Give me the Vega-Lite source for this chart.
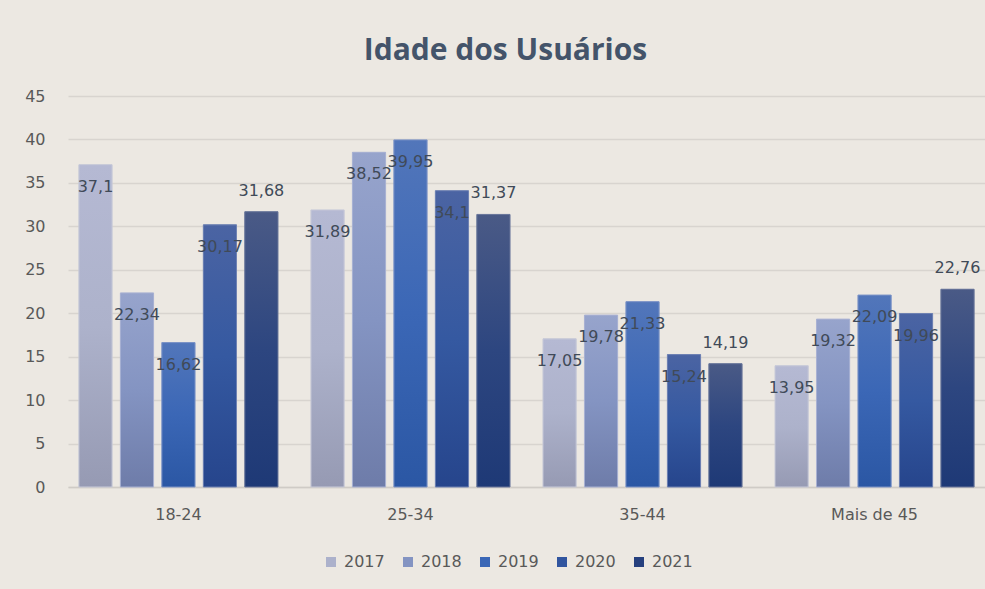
{
  "$schema": "https://vega.github.io/schema/vega-lite/v6.json",
  "autosize": "none",
  "width": 917,
  "height": 391,
  "padding": {"left": 68, "top": 96, "right": 0, "bottom": 102},
  "background": "#ECE8E2",
  "title": {"text": "Idade dos Usuários", "fontSize": 30, "fontWeight": "bold", "font": "Open Sans", "color": "#44546A", "anchor": "middle", "offset": 22, "dx": -21},
  "data": {"values": [
    {"faixa": "18-24", "ano": "2017", "valor": 37.1},
    {"faixa": "18-24", "ano": "2018", "valor": 22.34},
    {"faixa": "18-24", "ano": "2019", "valor": 16.62},
    {"faixa": "18-24", "ano": "2020", "valor": 30.17},
    {"faixa": "18-24", "ano": "2021", "valor": 31.68},
    {"faixa": "25-34", "ano": "2017", "valor": 31.89},
    {"faixa": "25-34", "ano": "2018", "valor": 38.52},
    {"faixa": "25-34", "ano": "2019", "valor": 39.95},
    {"faixa": "25-34", "ano": "2020", "valor": 34.1},
    {"faixa": "25-34", "ano": "2021", "valor": 31.37},
    {"faixa": "35-44", "ano": "2017", "valor": 17.05},
    {"faixa": "35-44", "ano": "2018", "valor": 19.78},
    {"faixa": "35-44", "ano": "2019", "valor": 21.33},
    {"faixa": "35-44", "ano": "2020", "valor": 15.24},
    {"faixa": "35-44", "ano": "2021", "valor": 14.19},
    {"faixa": "Mais de 45", "ano": "2017", "valor": 13.95},
    {"faixa": "Mais de 45", "ano": "2018", "valor": 19.32},
    {"faixa": "Mais de 45", "ano": "2019", "valor": 22.09},
    {"faixa": "Mais de 45", "ano": "2020", "valor": 19.96},
    {"faixa": "Mais de 45", "ano": "2021", "valor": 22.76}
  ]},
  "encoding": {
    "x": {"field": "faixa", "type": "nominal", "title": null, "sort": null,
      "scale": {"paddingInner": 0.142, "paddingOuter": 0.047},
      "axis": {"labelAngle": 0, "labelFont": "DejaVu Sans", "labelFontSize": 16, "labelColor": "#595959", "labelPadding": 19, "ticks": false, "domainColor": "#CFCBC6", "domainWidth": 1.5, "grid": false}},
    "xOffset": {"field": "ano", "type": "nominal", "scale": {"domain": ["2017", "2018", "2019", "2020", "2021"], "paddingInner": 0.2, "paddingOuter": 0}},
    "y": {"field": "valor", "type": "quantitative", "title": null,
      "scale": {"domain": [0, 45], "nice": false},
      "axis": {"values": [0, 5, 10, 15, 20, 25, 30, 35, 40, 45], "labelFont": "DejaVu Sans", "labelFontSize": 16, "labelColor": "#595959", "labelPadding": 23, "ticks": false, "domain": false, "gridColor": "#D8D4CF", "gridWidth": 1.5}}
  },
  "layer": [
    {
      "mark": {"type": "bar"},
      "encoding": {
        "color": {"field": "ano", "type": "nominal", "title": null,
          "scale": {"domain": ["2017", "2018", "2019", "2020", "2021"], "range": ["#ACB1CB", "#8494C2", "#3B67B6", "#31559F", "#26407E"]},
          "legend": {"orient": "none", "legendX": 255, "legendY": 458, "direction": "horizontal", "symbolType": "square", "symbolSize": 100, "symbolStrokeWidth": 0, "labelFont": "DejaVu Sans", "labelFontSize": 16, "labelColor": "#595959", "columnPadding": 15, "labelOffset": 5, "padding": 0}}
      }
    },
    {"transform": [{"filter": "datum.ano == '2017'"}], "mark": {"type": "bar", "stroke": "#C8CAD8", "strokeWidth": 1, "fill": {"gradient": "linear", "x1": 0, "y1": 0, "x2": 0, "y2": 1, "stops": [{"offset": 0, "color": "#B5B9D3"}, {"offset": 0.5, "color": "#ADB2CB"}, {"offset": 1, "color": "#969AB3"}]}}},
    {"transform": [{"filter": "datum.ano == '2018'"}], "mark": {"type": "bar", "stroke": "#A9B2D3", "strokeWidth": 1, "fill": {"gradient": "linear", "x1": 0, "y1": 0, "x2": 0, "y2": 1, "stops": [{"offset": 0, "color": "#97A4CC"}, {"offset": 0.5, "color": "#8494C2"}, {"offset": 1, "color": "#6E7CA9"}]}}},
    {"transform": [{"filter": "datum.ano == '2019'"}], "mark": {"type": "bar", "stroke": "#7D94C7", "strokeWidth": 1, "fill": {"gradient": "linear", "x1": 0, "y1": 0, "x2": 0, "y2": 1, "stops": [{"offset": 0, "color": "#5276BA"}, {"offset": 0.5, "color": "#3B67B6"}, {"offset": 1, "color": "#2B57A4"}]}}},
    {"transform": [{"filter": "datum.ano == '2020'"}], "mark": {"type": "bar", "stroke": "#6F82B3", "strokeWidth": 1, "fill": {"gradient": "linear", "x1": 0, "y1": 0, "x2": 0, "y2": 1, "stops": [{"offset": 0, "color": "#4B64A3"}, {"offset": 0.5, "color": "#3559A1"}, {"offset": 1, "color": "#26458C"}]}}},
    {"transform": [{"filter": "datum.ano == '2021'"}], "mark": {"type": "bar", "stroke": "#6A779B", "strokeWidth": 1, "fill": {"gradient": "linear", "x1": 0, "y1": 0, "x2": 0, "y2": 1, "stops": [{"offset": 0, "color": "#4A5A86"}, {"offset": 0.5, "color": "#2D4680"}, {"offset": 1, "color": "#1E3976"}]}}},
    {"transform": [{"filter": "datum.ano != '2021'"}], "mark": {"type": "text", "baseline": "middle", "align": "center", "dy": 22, "font": "DejaVu Sans", "fontSize": 16, "color": "#404A58"},
      "encoding": {"text": {"field": "valor", "type": "quantitative", "format": ".2~f"}}},
    {"transform": [{"filter": "datum.ano == '2021'"}], "mark": {"type": "text", "baseline": "middle", "align": "center", "dy": -21, "font": "DejaVu Sans", "fontSize": 16, "color": "#404A58"},
      "encoding": {"text": {"field": "valor", "type": "quantitative", "format": ".2~f"}}}
  ],
  "config": {
    "view": {"stroke": null},
    "locale": {"number": {"decimal": ",", "thousands": ".", "grouping": [3], "currency": ["R$", ""]}}
  }
}
